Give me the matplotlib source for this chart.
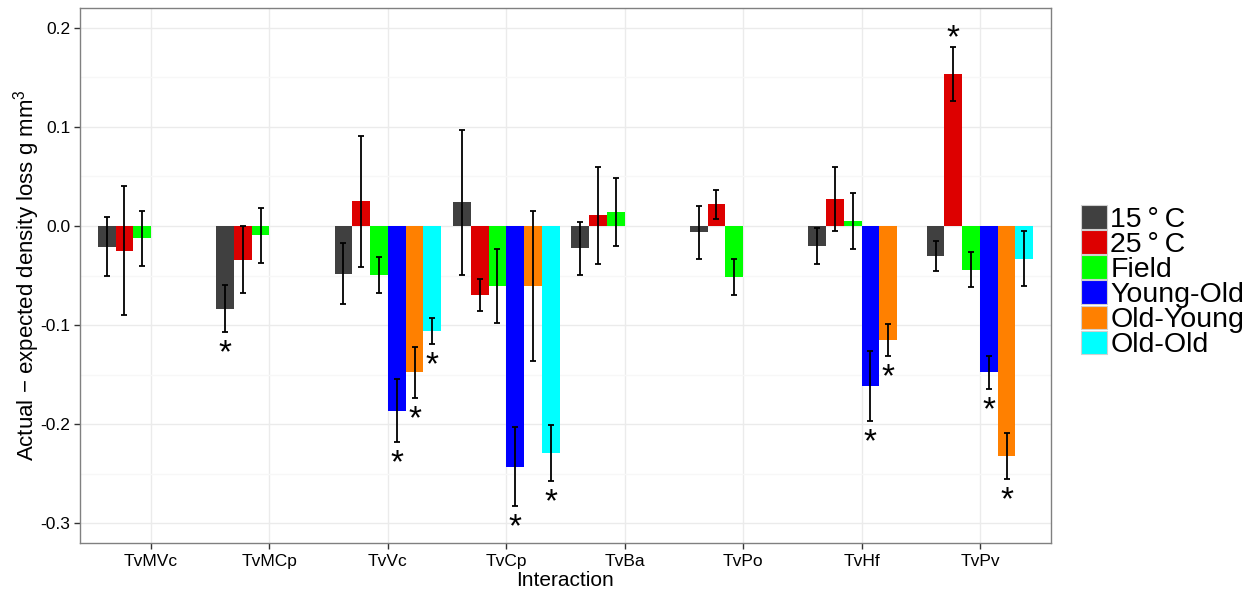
import matplotlib
matplotlib.use("Agg")
import matplotlib.pyplot as plt
import numpy as np
from matplotlib.patches import Patch

plt.rcParams['font.family'] = ['Liberation Sans', 'DejaVu Sans']
plt.rcParams['mathtext.fontset'] = 'custom'
plt.rcParams['mathtext.rm'] = 'Liberation Sans'
plt.rcParams['mathtext.it'] = 'Liberation Sans:italic'
plt.rcParams['axes.unicode_minus'] = False

# interactions on the x axis
interactions = ["TvMVc", "TvMCp", "TvVc", "TvCp", "TvBa", "TvPo", "TvHf", "TvPv"]

# treatments (fill groups)
treatments = ["15\u2009°\u2009C", "25\u2009°\u2009C", "Field", "Young-Old", "Old-Young", "Old-Old"]
colours = ["#404040", "#DD0000", "#00FF00", "#0000FF", "#FF8000", "#00FFFF"]

nan = np.nan
# mean actual - expected density loss, one row per treatment
mean_15 = [-0.021, -0.0835, -0.048, 0.024, -0.0226, -0.0064, -0.0202, -0.030]
mean_25 = [-0.025, -0.034, 0.025, -0.0694, 0.0108, 0.0219, 0.0273, 0.1532]
mean_field = [-0.0125, -0.0094, -0.0498, -0.0606, 0.0141, -0.0518, 0.005, -0.0441]
mean_yo = [nan, nan, -0.1865, -0.2428, nan, nan, -0.1616, -0.1478]
mean_oy = [nan, nan, -0.1478, -0.0606, nan, nan, -0.1152, -0.2323]
mean_oo = [nan, nan, -0.1057, -0.2293, nan, nan, nan, -0.033]

# standard errors
se_15 = [0.030, 0.024, 0.031, 0.073, 0.027, 0.027, 0.018, 0.015]
se_25 = [0.065, 0.034, 0.066, 0.016, 0.049, 0.0145, 0.032, 0.027]
se_field = [0.0275, 0.028, 0.018, 0.037, 0.034, 0.018, 0.028, 0.0177]
se_yo = [nan, nan, 0.032, 0.040, nan, nan, 0.035, 0.0165]
se_oy = [nan, nan, 0.026, 0.076, nan, nan, 0.016, 0.023]
se_oo = [nan, nan, 0.013, 0.028, nan, nan, nan, 0.028]

# significance markers
sig_15 = [0, 1, 0, 0, 0, 0, 0, 0]
sig_25 = [0, 0, 0, 0, 0, 0, 0, 1]
sig_field = [0, 0, 0, 0, 0, 0, 0, 0]
sig_yo = [0, 0, 1, 1, 0, 0, 1, 1]
sig_oy = [0, 0, 1, 0, 0, 0, 1, 1]
sig_oo = [0, 0, 1, 1, 0, 0, 0, 0]

means = [mean_15, mean_25, mean_field, mean_yo, mean_oy, mean_oo]
ses = [se_15, se_25, se_field, se_yo, se_oy, se_oo]
sigs = [sig_15, sig_25, sig_field, sig_yo, sig_oy, sig_oo]

fig = plt.figure(figsize=(12.53, 5.92), dpi=100)
ax = fig.add_axes([80 / 1253, 49 / 592, 971 / 1253, 535 / 592])

x = np.arange(1, len(interactions) + 1)
width = 0.9 / len(treatments)

for j, (m, s, sg) in enumerate(zip(means, ses, sigs)):
    m = np.array(m)
    s = np.array(s)
    pos = x + (j - 2.5) * width
    ax.bar(pos, m, width=width, color=colours[j], zorder=3)
    ok = ~np.isnan(m) & ~np.isnan(s)
    ax.errorbar(pos[ok], m[ok], yerr=s[ok], fmt='none', ecolor='black',
                elinewidth=1.3, capsize=2, capthick=1.3, zorder=4)
    for k in range(len(m)):
        if sg[k]:
            if m[k] >= 0:
                y = m[k] + s[k] + 0.009
            else:
                y = m[k] - s[k] - 0.022
            ax.text(pos[k], y, "*", ha='center', va='center', fontsize=24,
                    color='black', zorder=5)

ax.set_xlim(0.4, len(interactions) + 0.6)
ax.set_ylim(-0.320, 0.220)

yt = [-0.3, -0.2, -0.1, 0.0, 0.1, 0.2]
ax.set_yticks(yt)
ax.set_yticklabels(["-0.3", "-0.2", "-0.1", "0.0", "0.1", "0.2"], fontsize=12.5)
ax.set_yticks([-0.25, -0.15, -0.05, 0.05, 0.15], minor=True)
ax.set_xticks(x)
ax.set_xticklabels(interactions, fontsize=12.5)
ax.tick_params(axis='both', which='major', length=4, width=1, color='#333333', pad=3)
ax.tick_params(axis='x', which='major', pad=4)
ax.tick_params(axis='y', which='minor', length=0)

# theme_bw style grid
ax.grid(True, which='major', color='#EBEBEB', linewidth=1, zorder=0)
ax.grid(True, which='minor', axis='y', color='#F7F7F7', linewidth=1, zorder=0)
ax.set_axisbelow(True)
for sp in ax.spines.values():
    sp.set_color('#808080')
    sp.set_linewidth(1)

ax.set_xlabel("Interaction", fontsize=15, labelpad=1)
ax.set_ylabel(r"Actual $-$ expected density loss g mm$^{3}$", fontsize=16, labelpad=-1)

handles = [Patch(facecolor=c, edgecolor='#D0D0D0', linewidth=0.8) for c in colours]
leg = fig.legend(handles, treatments, loc='upper left', bbox_to_anchor=(1067 / 1253, 1 - 191 / 592),
                 frameon=False, fontsize=20.5, handlelength=0.9, handleheight=0.9,
                 handletextpad=0.12, labelspacing=-0.09, borderpad=0.0)

fig.savefig("out.png", dpi=100)
